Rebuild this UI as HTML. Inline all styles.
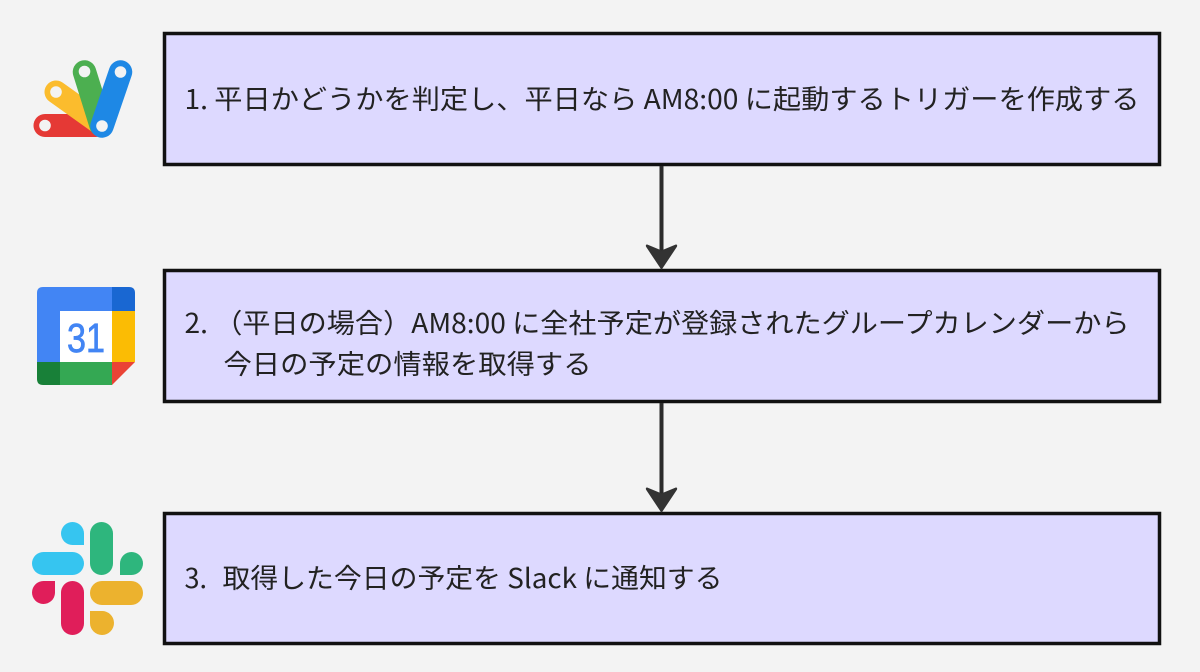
<!DOCTYPE html>
<html lang="ja">
<head>
<meta charset="utf-8">
<title>Diagram</title>
<style>
html,body{margin:0;padding:0;background:#f3f3f3;width:1200px;height:672px;overflow:hidden}
svg{display:block}
text{font-family:"Noto Sans CJK JP","Liberation Sans",sans-serif;font-size:27px;fill:#222}
</style>
</head>
<body>
<svg width="1200" height="672" viewBox="0 0 1200 672" xmlns="http://www.w3.org/2000/svg">
<rect width="1200" height="672" fill="#f3f3f3"/>

<!-- Boxes -->
<rect x="164.500" y="33.500" width="995" height="131" fill="#ddd9ff" stroke="#111" stroke-width="3.500"/>
<rect x="164.500" y="270.500" width="995" height="131" fill="#ddd9ff" stroke="#111" stroke-width="3.500"/>
<rect x="164.500" y="513.500" width="995" height="130" fill="#ddd9ff" stroke="#111" stroke-width="3.500"/>

<!-- Connectors -->
<line x1="661.500" y1="166" x2="661.500" y2="255" stroke="#2b2b2b" stroke-width="4"/>
<path d="M647 245 L661.500 251 L676 245 Q677 245 676.500 246.500 L661.500 269 L646.500 246.500 Q646 245 647 245 Z" fill="#333" stroke="#333" stroke-width="1" stroke-linejoin="round"/>
<line x1="661.500" y1="403" x2="661.500" y2="498" stroke="#2b2b2b" stroke-width="4"/>
<path d="M647 488 L661.500 494 L676 488 Q677 488 676.500 489.500 L661.500 512 L646.500 489.500 Q646 488 647 488 Z" fill="#333" stroke="#333" stroke-width="1" stroke-linejoin="round"/>

<!-- Text -->
<text x="184.500" y="109" textLength="955" lengthAdjust="spacingAndGlyphs">1. 平日かどうかを判定し、平日なら AM8:00 に起動するトリガーを作成する</text>
<text x="184.500" y="333" textLength="945" lengthAdjust="spacingAndGlyphs">2. （平日の場合）AM8:00 に全社予定が登録されたグループカレンダーから</text>
<text x="223.500" y="374" textLength="368" lengthAdjust="spacingAndGlyphs">今日の予定の情報を取得する</text>
<text x="184.500" y="588">3.</text>
<text x="222.500" y="588" textLength="500" lengthAdjust="spacingAndGlyphs">取得した今日の予定を Slack に通知する</text>

<!-- Apps Script icon -->
<g fill="none" stroke-linecap="round">
  <line x1="45" y1="125.500" x2="96" y2="125.500" stroke="#e53935" stroke-width="23"/>
  <line x1="56" y1="92" x2="98" y2="122" stroke="#fbbc2d" stroke-width="23"/>
  <line x1="84.500" y1="72" x2="101" y2="125" stroke="#4caf50" stroke-width="23.500"/>
  <line x1="120.500" y1="72" x2="102" y2="126" stroke="#1e88e5" stroke-width="23.500"/>
</g>
<g fill="#f3f3f3">
  <circle cx="45" cy="125.500" r="5.800"/>
  <circle cx="56" cy="92" r="5.800"/>
  <circle cx="84.500" cy="71.500" r="5.800"/>
  <circle cx="120.500" cy="72" r="5.800"/>
  <circle cx="102" cy="126" r="5.800"/>
</g>

<!-- Calendar icon -->
<path d="M43 287 H112 V311 H60 V362 H37 V293 Q37 287 43 287 Z" fill="#4285f4"/>
<path d="M112 287 H129 Q135 287 135 293 V311 H112 Z" fill="#1967d2"/>
<rect x="60" y="311" width="52" height="51" fill="#fff"/>
<rect x="112" y="311" width="23" height="51" fill="#fbbc04"/>
<rect x="60" y="362" width="52" height="23" fill="#34a853"/>
<path d="M37 362 H60 V385 H43 Q37 385 37 379 Z" fill="#188038"/>
<path d="M112 362 H135 L112 385 Z" fill="#ea4335"/>
<text x="67" y="352" textLength="38" lengthAdjust="spacingAndGlyphs" style="font-family:'Liberation Sans',sans-serif;font-size:41px;fill:#4285f4;stroke:#4285f4;stroke-width:.7">31</text>

<!-- Slack icon -->
<rect x="32" y="552" width="52" height="23" rx="11.500" fill="#36c5f0"/>
<path d="M84 545 H72.500 A11.500 11.500 0 1 1 84 533.500 Z" fill="#36c5f0"/>
<rect x="90" y="522" width="23" height="53" rx="11.500" fill="#2eb67d"/>
<path d="M120 575 V563.500 A11.500 11.500 0 1 1 131.500 575 Z" fill="#2eb67d"/>
<path d="M55 581 V593 A11.500 11.500 0 1 1 43.500 581 Z" fill="#e01e5a"/>
<rect x="61" y="581" width="23" height="54" rx="11.500" fill="#e01e5a"/>
<rect x="90" y="581" width="53" height="24" rx="12" fill="#ecb22e"/>
<path d="M90 611 H101.500 A12 12 0 1 1 90 623 Z" fill="#ecb22e"/>
</svg>
</body>
</html>
